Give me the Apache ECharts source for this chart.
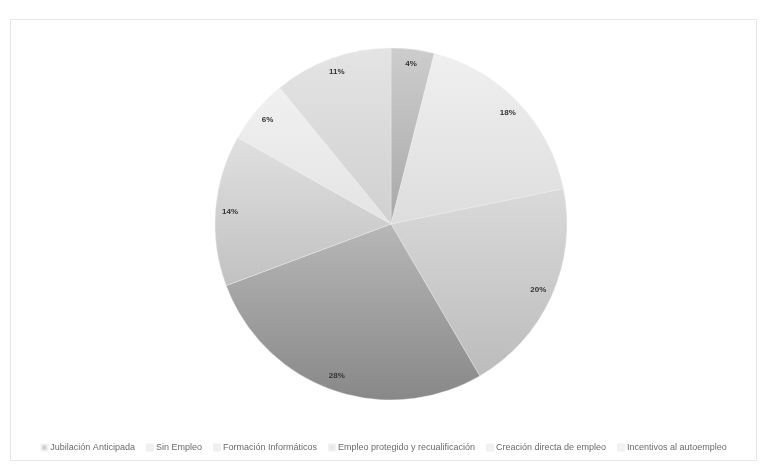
<!DOCTYPE html>
<html>
<head>
<meta charset="utf-8">
<title>Distribución por programa</title>
<script src="https://cdn.jsdelivr.net/npm/echarts@6/dist/echarts.min.js"></script>
<style>
  html, body { margin: 0; padding: 0; background: #ffffff; }
  #chart { width: 767px; height: 466px; }
</style>
</head>
<body>
<div id="chart"></div>
<script>
// Slice names, in clockwise order from 12 o'clock
const categories = [
  'Jubilación Anticipada',
  'Sin Empleo',
  'Formación Informáticos',
  'Empleo protegido y recualificación',
  'Creación directa de empleo',
  'Incentivos al autoempleo',
  'Otros'
];
// Share of each programme, in percent
const shares = [4, 18, 20, 28, 14, 6, 11];
// Entries shown in the legend
const legendNames = categories.slice(0, 6);

// Grey shading per slice: colour at the top and at the bottom of the pie
const shadeTop =    ['#cdcdcd', '#f0f0f0', '#f0f0f0', '#e6e6e6', '#f2f2f2', '#f4f4f4', '#e4e4e4'];
const shadeBottom = ['#848484', '#cacaca', '#b8b8b8', '#888888', '#aaaaaa', '#d4d4d4', '#bcbcbc'];

const pieCenter = [391, 224];
const pieRadius = 176;

function sliceFill(i) {
  return new echarts.graphic.LinearGradient(
    0, pieCenter[1] - pieRadius, 0, pieCenter[1] + pieRadius,
    [{ offset: 0, color: shadeTop[i] }, { offset: 1, color: shadeBottom[i] }],
    true
  );
}

const chart = echarts.init(document.getElementById('chart'), null, { renderer: 'canvas' });

chart.setOption({
  backgroundColor: '#ffffff',
  animation: false,
  graphic: [{
    type: 'rect',
    shape: { x: 10.5, y: 19.5, width: 746, height: 441 },
    style: { fill: 'none', stroke: '#e6e6e6', lineWidth: 1 },
    silent: true
  }],
  legend: {
    data: legendNames,
    bottom: 9,
    left: 'center',
    itemWidth: 6,
    itemHeight: 6,
    itemGap: 11,
    icon: 'rect',
    textStyle: { fontFamily: 'Liberation Sans', fontSize: 9, color: '#6a6a6a', padding: [0, 0, 0, -2] }
  },
  series: [
    {
      // The visible pie
      type: 'pie',
      center: pieCenter,
      radius: [0, pieRadius],
      startAngle: 90,
      clockwise: true,
      label: { show: false },
      labelLine: { show: false },
      itemStyle: { borderColor: '#f0f0f0', borderWidth: 0.4 },
      data: categories.map((name, i) => ({
        name: name,
        value: shares[i],
        itemStyle: { color: sliceFill(i) }
      }))
    },
    {
      // Transparent twin that places the percentage labels near the rim
      type: 'pie',
      silent: true,
      center: pieCenter,
      radius: [0, pieRadius * 1.8],
      startAngle: 90,
      clockwise: true,
      itemStyle: { color: 'rgba(0,0,0,0)' },
      label: {
        show: true,
        position: 'inside',
        formatter: (p) => p.value + '%',
        fontFamily: 'Liberation Sans',
        fontSize: 8,
        fontWeight: 'bold',
        color: '#333333'
      },
      labelLine: { show: false },
      emphasis: { disabled: true },
      data: categories.map((name, i) => ({ name: name, value: shares[i] }))
    }
  ]
});
</script>
</body>
</html>
